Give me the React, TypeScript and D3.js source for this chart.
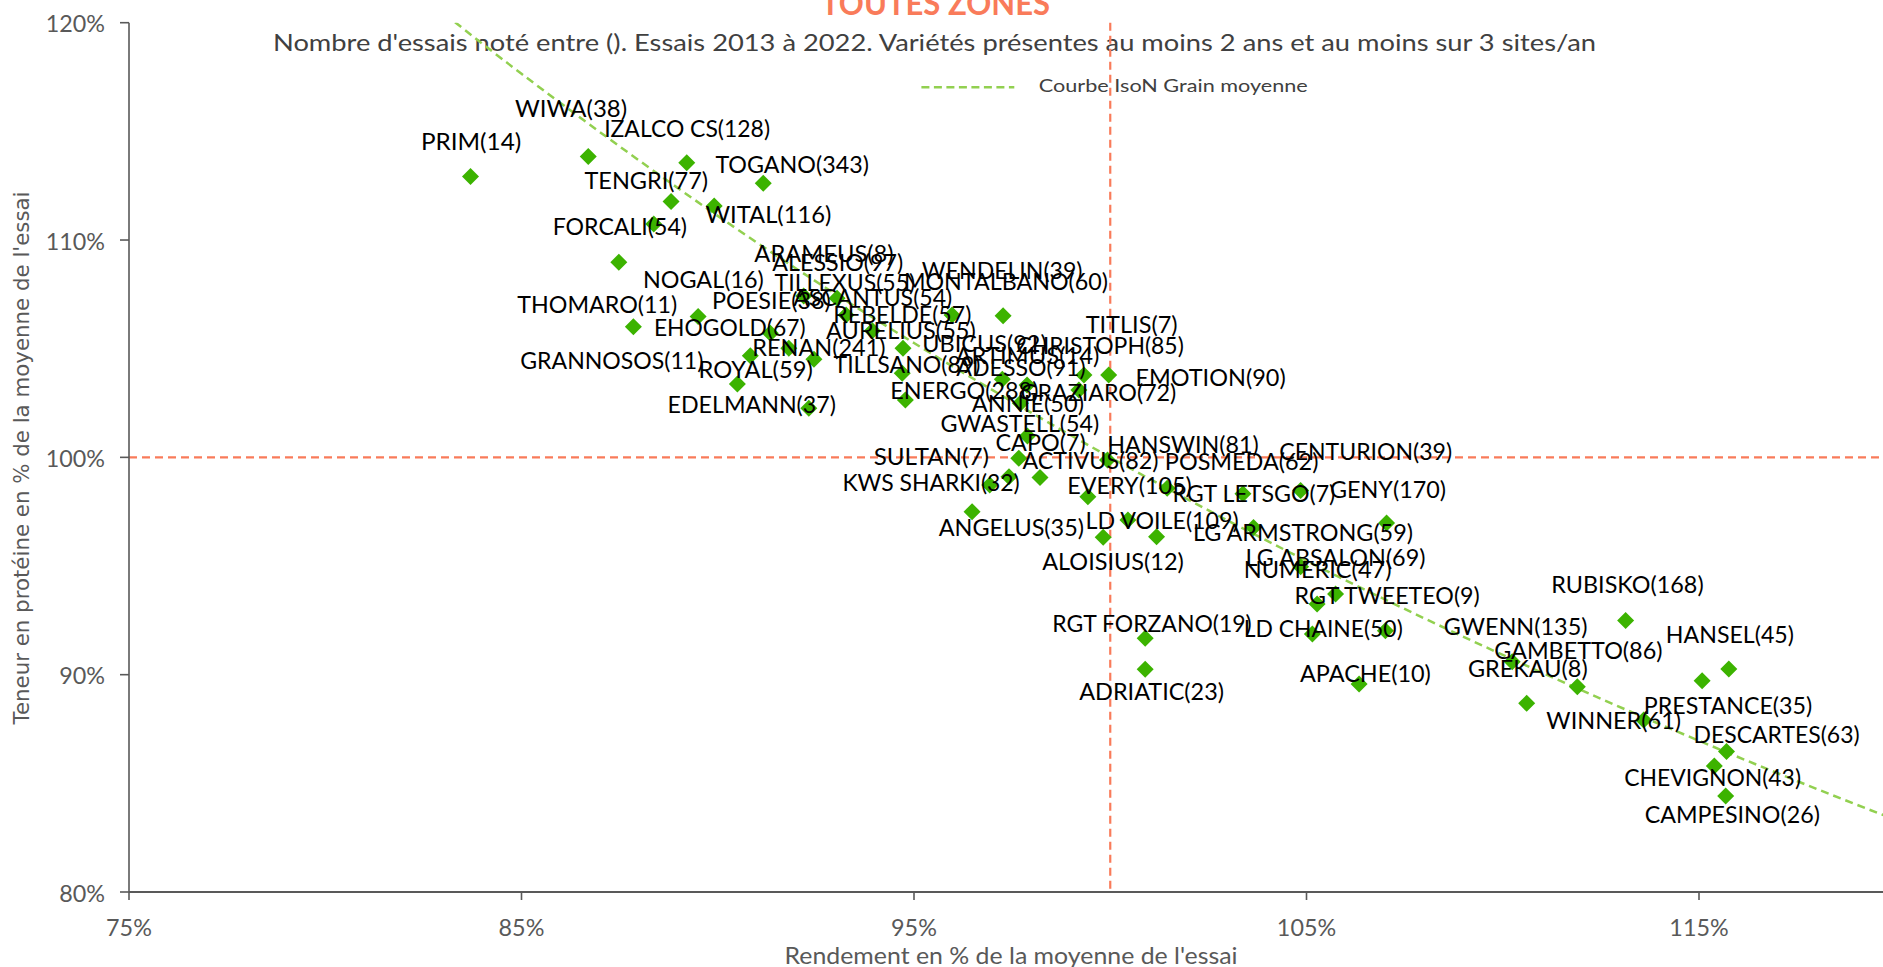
import React from 'react';
import * as d3 from 'd3';

// ---- data ----
const varieties: string[] = [
  'PRIM(14)', 'WIWA(38)', 'IZALCO CS(128)', 'TOGANO(343)', 'TENGRI(77)', 'WITAL(116)', 'FORCALI(54)', 'NOGAL(16)', 'THOMARO(11)', 'EHOGOLD(67)',
  'GRANNOSOS(11)', 'ROYAL(59)', 'EDELMANN(37)', 'RENAN(241)', 'POESIE(38)', 'ASCANTUS(54)', 'ARAMEUS(8)', 'ALESSIO(97)', 'TILLEXUS(55)', 'REBELDE(57)',
  'AURELIUS(55)', 'WENDELIN(39)', 'MONTALBANO(60)', 'TILLSANO(89)', 'ENERGO(288)', 'UBICUS(92)', 'CHRISTOPH(85)', 'TITLIS(7)', 'EMOTION(90)', 'ADESSO(91)',
  'ANNIE(50)', 'GWASTELL(54)', 'CAPO(7)', 'HANSWIN(81)', 'ACTIVUS(82)', 'KWS SHARKI(32)', 'SULTAN(7)', 'ANGELUS(35)', 'EVERY(105)', 'LD VOILE(109)',
  'ALOISIUS(12)', 'GRAZIARO(72)', 'POSMEDA(62)', 'RGT LETSGO(7)', 'CENTURION(39)', 'GENY(170)', 'LG ARMSTRONG(59)', 'LG ABSALON(69)', 'NUMERIC(47)', 'RGT TWEETEO(9)',
  'RUBISKO(168)', 'RGT FORZANO(19)', 'LD CHAINE(50)', 'ARTIMUS(14)', 'GWENN(135)', 'HANSEL(45)', 'GAMBETTO(86)', 'GREKAU(8)', 'APACHE(10)', 'ADRIATIC(23)',
  'PRESTANCE(35)', 'WINNER(61)', 'DESCARTES(63)', 'CHEVIGNON(43)', 'CAMPESINO(26)',
];

// Rendement en % de la moyenne de l'essai
const yieldPct: number[] = [
  83.70, 86.70, 89.21, 91.16, 88.81, 89.91, 88.37, 87.48, 87.85, 89.50,
  90.50, 90.83, 92.32, 91.81, 92.19, 93.04, 91.34, 93.27, 92.45, 95.97,
  93.94, 97.27, 94.72, 94.70, 94.78, 97.25, 97.88, 99.33, 99.96, 99.20,
  97.71, 97.89, 97.67, 99.93, 98.21, 96.93, 97.42, 96.48, 99.43, 100.45,
  99.82, 101.18, 101.45, 103.38, 104.85, 107.04, 103.65, 104.85, 105.27, 105.74,
  113.13, 100.89, 105.15, 107.01, 110.24, 115.76, 111.90, 110.61, 106.34, 100.89,
  115.08, 113.59, 115.70, 115.39, 115.68,
];

// Teneur en protéine en % de la moyenne de l'essai
const proteinPct: number[] = [
  112.92, 113.84, 113.56, 112.61, 111.77, 111.57, 110.74, 108.98, 106.01, 106.48,
  103.38, 104.67, 102.26, 105.02, 107.43, 107.32, 105.71, 106.55, 104.51, 106.55,
  105.83, 106.51, 105.02, 103.87, 102.64, 103.59, 103.33, 103.79, 103.79, 103.10,
  102.49, 100.98, 99.96, 99.88, 99.07, 98.73, 99.11, 97.50, 98.19, 97.12,
  96.32, 96.35, 98.58, 98.32, 98.47, 96.98, 96.77, 94.97, 93.25, 93.71,
  92.49, 91.68, 91.87, 92.02, 90.60, 90.26, 89.45, 88.68, 89.57, 90.25,
  89.72, 87.92, 86.46, 85.80, 84.42,
];

// Courbe IsoN grain moyenne (rendement x protéine constant)
const isoYield: number[] = [80, 82, 85, 90, 95, 100, 105, 110, 115, 120, 125];
const isoProtein: number[] = [125.0, 121.95, 117.65, 111.11, 105.26, 100.0, 95.24, 90.91, 86.96, 83.33, 80.0];

const xTicks: number[] = [75, 85, 95, 105, 115];
const yTicks: number[] = [80, 90, 100, 110, 120];

// ---- label layout (pixel offsets of each label from its marker) ----
const labelDx: number[] = [
  -49.6, -73.2, -82.6, -47.9, -86.6, -8.8, -101.1, 24.1, -116, -44.2,
  -217.1, -51.8, -141.3, -36.5, -91.7, -43.9, -16, -73.8, -39.3, -118.7,
  -46.3, -81.3, 0.9, -68.7, -15, -80, -10.7, 1.7, 26.7, -122.5,
  -48.5, -87, -23.3, -0.3, -17.6, -147.3, -135.3, -33.4, -20.6, -42.3,
  -61, -136, -2.3, -70.5, -21.3, -56.6, -60.5, -55, -73.4, -41,
  -74.3, -92.9, -68.7, -430, -68.5, -63, -83.2, -58.7, -59.1, -65.9,
  -58.4, -97.3, -33, -90, -81,
];
const labelDy: number[] = [
  -35.7, -48.7, -34.7, -19.8, -21.7, 8, 1.8, 16, -23.7, 10,
  -24, 12.3, -4.3, -1.6, 4, -1.6, -80.3, -53.3, -78.3, -1.7,
  -0.7, -46, -67.8, -10, -10, -37.3, -40, -51, 1.7, -23.3,
  -0.8, -13.5, -16.3, -16, -17.7, -3, -20.7, 15.3, -11.7, 0,
  22.7, -144.7, -27.3, -1.5, -39.7, -34, 3.5, -10, -36, 0,
  -36.7, -15.8, -6.5, -276.7, -35.9, -36, -36.7, -36.3, -11.5, 21.2,
  23.8, 0, -18.4, 10.7, 18,
];

const W = 1883;
const H = 967;
const CAL = "Lato, 'Noto Sans', sans-serif";
const GRAY = '#595959';
const ORANGE = '#F97B5A';
const LIME = '#92D050';
const MARK = '#3CB300';

// approximate advance widths (em) of the original Calibri face, used to size texts
const CALIBRI_EM: Record<string, number> = {
  A: 0.579, B: 0.544, C: 0.533, D: 0.615, E: 0.488, F: 0.459, G: 0.631, H: 0.623, I: 0.252,
  J: 0.319, K: 0.52, L: 0.42, M: 0.855, N: 0.646, O: 0.662, P: 0.517, Q: 0.673, R: 0.543,
  S: 0.459, T: 0.487, U: 0.642, V: 0.567, W: 0.89, X: 0.519, Y: 0.487, Z: 0.468,
  '0': 0.507, '1': 0.507, '2': 0.507, '3': 0.507, '4': 0.507, '5': 0.507, '6': 0.507,
  '7': 0.507, '8': 0.507, '9': 0.507, '(': 0.303, ')': 0.303, ' ': 0.226, '%': 0.715,
};
const CAL_PX = 26.5;
const calWidth = (s: string) =>
  s.split('').reduce((acc, c) => acc + (CALIBRI_EM[c] ?? 0.5), 0) * CAL_PX;

export default function App() {
  const x = d3.scaleLinear().domain([75, 125]).range([129, 129 + 50 * 39.25]);
  const y = d3.scaleLinear().domain([80, 120]).range([892, 22.7]);
  const x0 = x(75);
  const yTop = y(120);
  const yBot = y(80);

  const iso = d3
    .line<number>()
    .x((d) => x(d))
    .y((_d, i) => y(isoProtein[i]))
    .curve(d3.curveNatural)(isoYield) as string;

  const diamond = 'M0,-8.5L8.5,0L0,8.5L-8.5,0Z';

  return (
    <svg
      width={W}
      height={H}
      viewBox={`0 0 ${W} ${H}`}
      style={{ position: 'absolute', left: 0, top: 0, background: '#fff' }}
    >
      <defs>
        <clipPath id="plot">
          <rect x={x0} y={yTop} width={W - x0} height={yBot - yTop} />
        </clipPath>
      </defs>
      <rect x={0} y={0} width={W} height={H} fill="#fff" />

      {/* Title (cut by the top edge) */}
      <text
        x={935.5}
        y={15}
        textAnchor="middle"
        fontFamily={CAL}
        fontWeight={700}
        fontSize={32}
        fill={ORANGE}
        textLength={229}
        lengthAdjust="spacingAndGlyphs"
      >
        TOUTES ZONES
      </text>
      <text
        x={273}
        y={41.7}
        dominantBaseline="central"
        fontFamily={CAL}
        fontSize={24}
        fill="#404040"
        textLength={1323}
        lengthAdjust="spacingAndGlyphs"
      >
        Nombre d'essais noté entre (). Essais 2013 à 2022. Variétés présentes au moins 2 ans et au moins sur 3 sites/an
      </text>

      {/* reference lines at 100% */}
      <line x1={x0} x2={W} y1={y(100)} y2={y(100)} stroke={ORANGE} strokeWidth={2.4} strokeDasharray="8,5" />
      <line x1={x(100)} x2={x(100)} y1={yTop} y2={yBot} stroke={ORANGE} strokeWidth={2.2} strokeDasharray="8,5" />

      {/* IsoN curve */}
      <g clipPath="url(#plot)">
        <path d={iso} fill="none" stroke={LIME} strokeWidth={2.5} strokeDasharray="8,5" />
      </g>

      {/* Legend */}
      <line x1={921.4} x2={1014.3} y1={87.3} y2={87.3} stroke={LIME} strokeWidth={2.5} strokeDasharray="8,4.5" />
      <text
        x={1038.8}
        y={85}
        dominantBaseline="central"
        fontFamily={CAL}
        fontSize={18}
        fill="#404040"
        textLength={269}
        lengthAdjust="spacingAndGlyphs"
      >
        Courbe IsoN Grain moyenne
      </text>

      {/* Axes */}
      <line x1={x0} x2={x0} y1={yTop} y2={yBot} stroke={GRAY} strokeWidth={1.6} />
      <line x1={x0} x2={W} y1={yBot} y2={yBot} stroke={GRAY} strokeWidth={2.2} />
      {yTicks.map((t) => (
        <g key={'yt' + t}>
          <line x1={x0 - 9} x2={x0} y1={y(t)} y2={y(t)} stroke={GRAY} strokeWidth={1.6} />
          <text
            x={105}
            y={y(t)}
            textAnchor="end"
            dominantBaseline="central"
            fontFamily={CAL}
            fontSize={24}
            fill={GRAY}
            textLength={calWidth(`${t}%`)}
            lengthAdjust="spacingAndGlyphs"
          >
            {t}%
          </text>
        </g>
      ))}
      {xTicks.map((t) => (
        <g key={'xt' + t}>
          <line x1={x(t)} x2={x(t)} y1={yBot} y2={yBot + 8} stroke={GRAY} strokeWidth={1.6} />
          <text
            x={x(t)}
            y={926.5}
            textAnchor="middle"
            dominantBaseline="central"
            fontFamily={CAL}
            fontSize={24}
            fill={GRAY}
            textLength={calWidth(`${t}%`)}
            lengthAdjust="spacingAndGlyphs"
          >
            {t}%
          </text>
        </g>
      ))}

      {/* Axis titles */}
      <text
        x={1011}
        y={954}
        textAnchor="middle"
        dominantBaseline="central"
        fontFamily={CAL}
        fontSize={24}
        fill={GRAY}
        textLength={453}
        lengthAdjust="spacingAndGlyphs"
      >
        Rendement en % de la moyenne de l'essai
      </text>
      <text
        transform={`translate(22,458) rotate(-90)`}
        textAnchor="middle"
        dominantBaseline="central"
        fontFamily="'DejaVu Sans', Verdana, sans-serif"
        fontSize={21}
        fill={GRAY}
        textLength={533}
        lengthAdjust="spacingAndGlyphs"
      >
        Teneur en protéine en % de la moyenne de l'essai
      </text>

      {/* Points */}
      <g>
        {varieties.map((v, i) => (
          <path
            key={'p' + v}
            d={diamond}
            transform={`translate(${x(yieldPct[i])},${y(proteinPct[i])})`}
            fill={MARK}
          />
        ))}
      </g>

      {/* Labels */}
      <g fontFamily={CAL} fontSize={24} fill="#000">
        {varieties.map((v, i) => (
          <text
            key={'l' + v}
            x={x(yieldPct[i]) + labelDx[i]}
            y={y(proteinPct[i]) + labelDy[i]}
            dominantBaseline="central"
            textLength={calWidth(v)}
            lengthAdjust="spacingAndGlyphs"
          >
            {v}
          </text>
        ))}
      </g>
    </svg>
  );
}
